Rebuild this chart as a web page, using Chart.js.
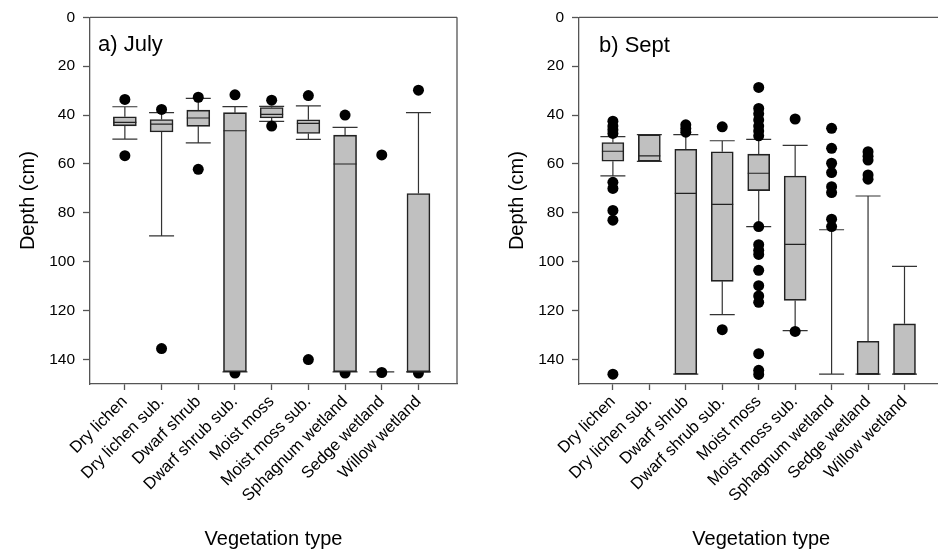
<!DOCTYPE html>
<html><head><meta charset="utf-8">
<script src="https://cdn.jsdelivr.net/npm/chart.js@4/dist/chart.umd.min.js"></script>
<style>
html,body{margin:0;padding:0;background:#fff;overflow:hidden;width:938px;height:552px;position:relative}
#ca{position:absolute;left:0;top:0}
#cb{position:absolute;left:489px;top:0}
</style></head><body>
<canvas id="ca" width="469" height="552"></canvas>
<canvas id="cb" width="460" height="552"></canvas>
<script>
const categories = ['Dry lichen','Dry lichen sub.','Dwarf shrub','Dwarf shrub sub.','Moist moss','Moist moss sub.','Sphagnum wetland','Sedge wetland','Willow wetland'];
const yTickValues = [0,20,40,60,80,100,120,140];

// July (a)
const julyWhiskerTop = [36.6, 39.0, 33.2, 36.5, 36.4, 36.2, 45.0, 145, 39.0];
const julyQ1        = [40.7, 41.8, 38.0, 39.0, 36.9, 41.9, 48.2, 145, 72.1];
const julyMedian    = [43.0, 43.7, 41.2, 46.4, 39.7, 43.4, 60.0, 145, 145];
const julyQ3        = [44.4, 46.9, 44.6, 145, 41.2, 47.5, 145, 145, 145];
const julyWhiskerBottom = [49.8, 89.4, 51.4, 145, 42.6, 49.9, 145, 145, 145];
const julyOutliers = [
  [33.6, 56.6],
  [37.7, 135.5],
  [32.7, 62.2],
  [31.7, 145.5],
  [33.9, 44.5],
  [32.0, 140.0],
  [40.0, 145.5],
  [56.3, 145.3],
  [29.8, 145.5]
];

// September (b)
const septWhiskerTop = [48.8, 48.0, 48.0, 50.5, 49.9, 52.4, 86.9, 73.1, 101.9];
const septQ1        = [51.2, 48.0, 54.0, 55.0, 56.0, 64.9, 146, 132.5, 125.4];
const septMedian    = [54.8, 56.7, 72.0, 76.5, 63.8, 92.9, 146, 146, 146];
const septQ3        = [58.9, 58.9, 146, 108.0, 70.9, 115.8, 146, 146, 146];
const septWhiskerBottom = [64.9, 58.9, 146, 121.6, 85.6, 128.2, 146, 146, 146];
const septOutliers = [
  [42.5, 44.5, 46.0, 47.5, 67.5, 70.0, 79.0, 83.0, 146.0],
  [],
  [44.0, 45.5, 47.0],
  [44.8, 127.8],
  [28.7, 37.3, 39.5, 42.0, 44.5, 46.5, 48.5, 85.6, 93.0, 95.3, 97.0, 103.5, 109.8, 114.0, 116.6, 137.6, 144.4, 146.1],
  [41.6, 128.5],
  [45.4, 53.6, 59.7, 63.5, 69.3, 71.7, 82.6, 85.6],
  [55.0, 56.8, 58.4, 64.5, 66.2],
  []
];

const FONT = "'Liberation Sans', Arial, sans-serif";

const boxPlugin = {
  id: 'boxWhiskers',
  beforeDatasetsDraw(chart) {
    const s = chart.options.plugins.boxWhiskers;
    const xs = chart.scales.x, ys = chart.scales.y, ctx = chart.ctx;
    ctx.save();
    ctx.strokeStyle = '#333';
    ctx.lineWidth = 1.2;
    ctx.beginPath();
    for (let i = 0; i < categories.length; i++) {
      const x = xs.getPixelForValue(i + 1);
      const cap = s.capHalf;
      if (s.top[i] !== s.q1[i]) { ctx.moveTo(x, ys.getPixelForValue(s.top[i])); ctx.lineTo(x, ys.getPixelForValue(s.q1[i])); }
      if (s.q3[i] !== s.bottom[i]) { ctx.moveTo(x, ys.getPixelForValue(s.q3[i])); ctx.lineTo(x, ys.getPixelForValue(s.bottom[i])); }
      [s.top[i], s.bottom[i]].forEach(v => { const y = ys.getPixelForValue(v); ctx.moveTo(x - cap, y); ctx.lineTo(x + cap, y); });
    }
    ctx.stroke();
    ctx.restore();
  },
  afterDatasetsDraw(chart) {
    const s = chart.options.plugins.boxWhiskers;
    const xs = chart.scales.x, ys = chart.scales.y, ctx = chart.ctx;
    ctx.save();
    ctx.strokeStyle = '#222';
    ctx.lineWidth = 1.2;
    ctx.beginPath();
    for (let i = 0; i < categories.length; i++) {
      if (s.q1[i] === s.q3[i]) continue;
      const x = xs.getPixelForValue(i + 1);
      const y = ys.getPixelForValue(s.median[i]);
      ctx.moveTo(x - s.boxHalf, y); ctx.lineTo(x + s.boxHalf, y);
    }
    ctx.stroke();
    const a = chart.chartArea;
    ctx.strokeStyle = '#555';
    ctx.lineWidth = 1.3;
    ctx.beginPath();
    ctx.moveTo(a.left, a.top); ctx.lineTo(a.right, a.top);
    if (s.rightFrame) { ctx.moveTo(a.right, a.top); ctx.lineTo(a.right, a.bottom); }
    ctx.stroke();
    ctx.fillStyle = '#000';
    ctx.font = '22px ' + FONT;
    ctx.textBaseline = 'alphabetic';
    ctx.textAlign = 'left';
    ctx.fillText(s.label, a.left + s.labelDx, s.labelY);
    ctx.restore();
  }
};

function makeChart(id, p) {
  const boxes = categories.map((c, i) => p.q1[i] === p.q3[i] ? null : { x: i + 1, y: [p.q1[i], p.q3[i]] }).filter(d => d);
  const pts = [];
  p.outliers.forEach((arr, i) => arr.forEach(v => pts.push({ x: i + 1, y: v })));
  return new Chart(document.getElementById(id), {
    type: 'bar',
    data: {
      datasets: [
        { type: 'bar', data: boxes, backgroundColor: '#c0c0c0', borderColor: '#222', borderWidth: 1.6,
          borderSkipped: false, barThickness: p.boxWidth, grouped: false, order: 0 },
        { type: 'scatter', data: pts, backgroundColor: '#000', borderWidth: 0, pointRadius: 5.5, order: 1 }
      ]
    },
    options: {
      responsive: false, animation: false, devicePixelRatio: 1,
      layout: { padding: { top: 0, right: p.padRight, left: 0, bottom: 0 } },
      plugins: {
        legend: { display: false }, tooltip: { enabled: false },
        boxWhiskers: { top: p.top, q1: p.q1, median: p.median, q3: p.q3, bottom: p.bottom,
          capHalf: 12.5, boxHalf: p.boxWidth / 2, rightFrame: p.rightFrame, label: p.label, labelDx: p.labelDx, labelY: p.labelY }
      },
      scales: {
        x: {
          type: 'linear', min: p.xMin, max: p.xMin + 10, offset: false,
          afterFit: sc => { sc.height = 168; },
          afterBuildTicks: sc => { sc.ticks = categories.map((c, i) => ({ value: i + 1 })); },
          ticks: { autoSkip: false, minRotation: 45, maxRotation: 45, color: '#000', padding: 2,
                   font: { family: FONT, size: 16.5 }, callback: v => categories[v - 1] },
          grid: { offset: false, drawOnChartArea: false, drawTicks: true, tickLength: 6, color: '#555', tickWidth: 1.3 },
          border: { display: true, color: '#555', width: 1.3 },
          title: { display: true, text: 'Vegetation type', color: '#000', font: { family: FONT, size: 20 }, padding: { top: 0, bottom: 1 } }
        },
        y: {
          type: 'linear', reverse: true, min: 0, max: 150,
          afterFit: sc => { sc.width = 90; },
          afterBuildTicks: sc => { sc.ticks = yTickValues.map(v => ({ value: v })); },
          ticks: { color: '#000', padding: 8, font: { family: FONT, size: 15.5 } },
          grid: { offset: false, drawOnChartArea: false, drawTicks: true, tickLength: 7, color: '#555', tickWidth: 1.3 },
          border: { display: true, color: '#555', width: 1.3 },
          title: { display: true, text: 'Depth (cm)', color: '#000', font: { family: FONT, size: 20 }, padding: { top: 16, bottom: 0 } }
        }
      }
    },
    plugins: [boxPlugin]
  });
}

makeChart('ca', { top: julyWhiskerTop, q1: julyQ1, median: julyMedian, q3: julyQ3, bottom: julyWhiskerBottom,
  outliers: julyOutliers, label: 'a) July', labelDx: 8, labelY: 51, rightFrame: true, padRight: 12, xMin: 0.05, boxWidth: 23 });
makeChart('cb', { top: septWhiskerTop, q1: septQ1, median: septMedian, q3: septQ3, bottom: septWhiskerBottom,
  outliers: septOutliers, label: 'b) Sept', labelDx: 20, labelY: 52, rightFrame: false, padRight: 0, xMin: 0.07, boxWidth: 22 });
</script>
</body></html>
